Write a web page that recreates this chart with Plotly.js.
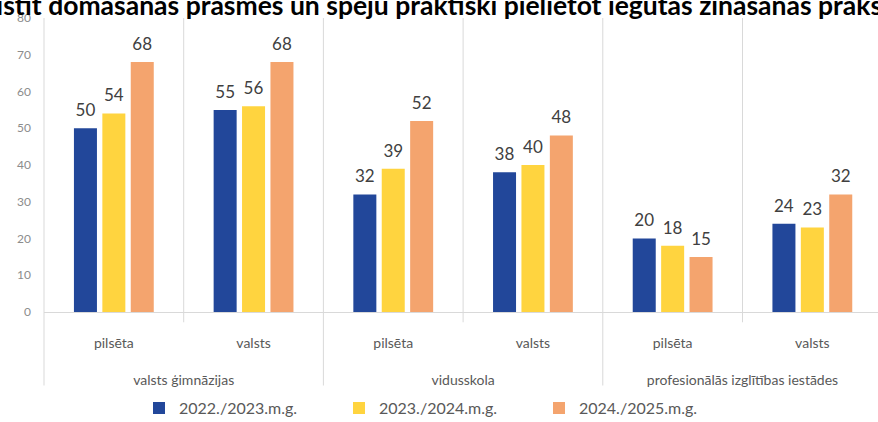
<!DOCTYPE html>
<html>
<head>
<meta charset="utf-8">
<script src="https://cdn.plot.ly/plotly-3.0.1.min.js"></script>
<style>html,body{margin:0;padding:0;background:#fff;}#chart{width:878px;height:422px;}</style>
</head>
<body>
<div id="chart"></div>
<script>
const groups = ["valsts ģimnāzijas","valsts ģimnāzijas","vidusskola","vidusskola","profesionālās izglītības iestādes","profesionālās izglītības iestādes"];
const subcats = ["pilsēta","valsts","pilsēta","valsts","pilsēta","valsts"];
const seriesNames = ["2022./2023.m.g.","2023./2024.m.g.","2024./2025.m.g."];
const y2022 = [50,55,32,38,20,24];
const y2023 = [54,56,39,40,18,23];
const y2024 = [68,68,52,48,15,32];
const colors = ["#22479A","#FFD43F","#F4A46E"];
const titleText = "Attīstīt domāšanas prasmes un spēju praktiski pielietot iegūtās zināšanas praksē";

const font = "Lato, 'Open Sans', sans-serif";
const xr = [-0.5, 5.47];
const labelPad = 1.4; // visual gap between bar top and its value label (axis units)
const vals = [y2022, y2023, y2024];
// leading line breaks push both label rows down to the reference spacing
const groupLabels = groups.map(g => "<br><br>" + g);
const subLabels = subcats.map(s => "<br>" + s);
const traces = [];
vals.forEach((v,i)=>{
  traces.push({
    type:"bar", name: seriesNames[i], x:[groupLabels, subLabels], y:v, offsetgroup:"g"+i,
    marker:{color:colors[i]}, hoverinfo:"skip"
  });
});
vals.forEach((v,i)=>{
  traces.push({
    type:"bar", name: seriesNames[i]+" labels", showlegend:false, x:[groupLabels, subLabels],
    y:v.map(()=>labelPad), base:v, offsetgroup:"g"+i,
    marker:{color:"rgba(0,0,0,0)"}, text:v.map(String), textposition:"outside",
    textfont:{family:font, size:17, color:"#404040"}, cliponaxis:false, hoverinfo:"skip"
  });
});

const shapes = [];
const px = b => (b - xr[0])/(xr[1]-xr[0]);
for (let k=0;k<=6;k++){
  const b = k-0.5;
  const isGroup = (k%2===0);
  shapes.push({type:"line", xref:"paper", yref:"paper", x0:px(b), x1:px(b), y0:1, y1: isGroup ? -0.25 : -0.035,
    line:{color:"#d9d9d9", width:1}, layer:"below"});
}

const layout = {
  width:878, height:422,
  margin:{l:44, r:0, t:18, b:110},
  paper_bgcolor:"#fff", plot_bgcolor:"#fff",
  font:{family:font, color:"#595959"},
  barmode:"group", bargap:0.39, bargroupgap:0.19,
  showlegend:true,
  legend:{orientation:"h", xref:"container", yref:"container", x:0.5, xanchor:"center", y:0.033, yanchor:"middle",
    font:{family:font, size:16, color:"#595959"}, entrywidth:155, itemwidth:30},
  xaxis:{type:"multicategory", range:xr, showline:true, linecolor:"#d9d9d9", linewidth:1,
    ticks:"", showdividers:false,
    tickfont:{family:font, size:14, color:"#595959"}, showgrid:false, zeroline:false, fixedrange:true},
  yaxis:{range:[0,80], dtick:10, showgrid:false, zeroline:false, showline:false, ticks:"",
    ticklabelstandoff:12, tickfont:{family:font, size:12, color:"#8c8c8c"}, fixedrange:true},
  shapes: shapes,
  annotations:[{text:titleText, xref:"paper", yref:"paper", x:0, y:1, xanchor:"left", yanchor:"middle",
    xshift:-87, yshift:13, showarrow:false, font:{family:font, size:26.5, color:"#000", weight:"bold"}}]
};
Plotly.newPlot("chart", traces, layout, {displayModeBar:false, staticPlot:true});
</script>
</body>
</html>
